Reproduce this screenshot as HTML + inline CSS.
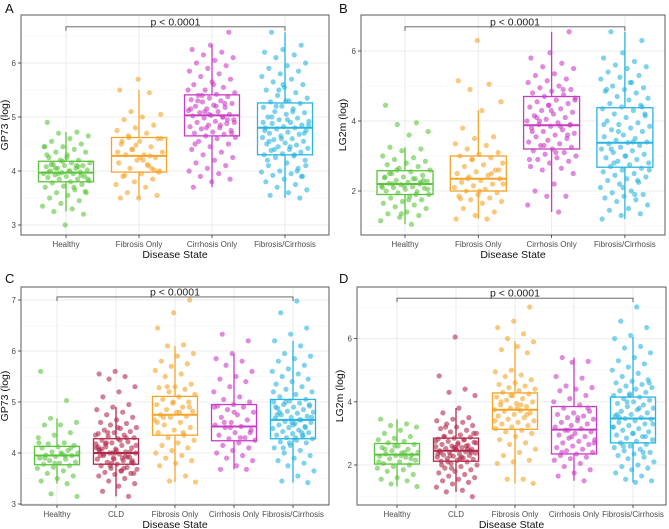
<!DOCTYPE html>
<html><head><meta charset="utf-8">
<style>
html,body{margin:0;padding:0;background:#fff;}
svg{display:block;font-family:"Liberation Sans",sans-serif;}
</style></head>
<body>
<svg id="chart" width="669" height="529" viewBox="0 0 669 529" xmlns="http://www.w3.org/2000/svg"></svg>
<script>
// ---------- DATA ----------
const catsAB = ["Healthy","Fibrosis Only","Cirrhosis Only","Fibrosis/Cirrhosis"];
const catsCD = ["Healthy","CLD","Fibrosis Only","Cirrhosis Only","Fibrosis/Cirrhosis"];
const colorsAB = ["#5cc43c","#f5a42a","#c93cc4","#2ab4e0"];
const colorsCD = ["#5cc43c","#b3294b","#f5a42a","#c93cc4","#2ab4e0"];

// Panel A (GP73 log) box stats: q1, median, q3, lower whisker, upper whisker
const aQ1 = [3.80,3.98,4.65,4.30];
const aMed = [3.97,4.28,5.03,4.80];
const aQ3 = [4.18,4.62,5.41,5.26];
const aLo = [3.25,3.50,3.70,3.50];
const aHi = [4.72,5.50,6.33,6.57];
const aTicks = [3,4,5,6];
const aPts = [
[4.9,4.72,4.7,4.65,4.6,4.55,4.5,4.45,4.45,4.4,4.35,4.35,4.3,4.25,4.2,4.2,4.15,4.15,4.12,4.1,4.1,4.08,4.05,4.05,4.02,4.0,4.0,3.98,3.97,3.95,3.95,3.93,3.9,3.9,3.88,3.85,3.85,3.82,3.8,3.78,3.75,3.72,3.7,3.65,3.6,3.6,3.55,3.5,3.45,3.4,3.35,3.3,3.25,3.2,3.0,4.3,4.1,3.95,3.85,4.0,4.12,3.92,4.18,4.45,3.7,4.05,3.62,4.25,3.98,4.08],
[5.7,5.5,5.45,5.1,5.05,5.0,4.95,4.85,4.8,4.75,4.7,4.65,4.6,4.55,4.5,4.45,4.4,4.35,4.3,4.3,4.25,4.2,4.15,4.1,4.05,4.0,3.95,3.9,3.85,3.8,3.75,3.7,3.6,3.55,3.5,3.5,4.28,4.4,4.6,4.2,3.92,4.02,4.48,4.35,4.12,4.62,3.98,4.25,4.55,4.05],
[6.57,6.33,6.25,6.2,6.15,6.1,6.05,6.0,5.95,5.9,5.85,5.8,5.75,5.7,5.65,5.6,5.55,5.5,5.45,5.42,5.4,5.38,5.35,5.32,5.3,5.28,5.25,5.22,5.2,5.18,5.15,5.12,5.1,5.08,5.05,5.03,5.02,5.0,4.98,4.95,4.92,4.9,4.88,4.85,4.82,4.8,4.78,4.75,4.72,4.7,4.68,4.65,4.62,4.6,4.55,4.5,4.45,4.4,4.35,4.3,4.25,4.2,4.15,4.1,4.05,4.0,3.95,3.9,3.85,3.8,3.7,5.0,5.1,4.9,5.2,5.3,4.95,5.05,5.15,4.85,5.4,4.7,5.6,4.5,5.25,4.8,5.5],
[6.57,6.33,6.25,6.2,6.15,6.1,6.0,5.95,5.9,5.85,5.8,5.75,5.7,5.65,5.6,5.55,5.5,5.45,5.4,5.35,5.3,5.28,5.25,5.2,5.18,5.15,5.1,5.08,5.05,5.0,4.98,4.95,4.92,4.9,4.88,4.85,4.82,4.8,4.8,4.78,4.75,4.72,4.7,4.68,4.65,4.62,4.6,4.58,4.55,4.52,4.5,4.48,4.45,4.42,4.4,4.38,4.35,4.32,4.3,4.28,4.25,4.2,4.15,4.1,4.05,4.0,3.98,3.95,3.92,3.9,3.85,3.8,3.75,3.7,3.65,3.6,3.55,3.5,4.6,4.9,5.1,4.4,4.7,5.3,4.2,4.0,5.5,4.85,4.45,5.0,3.9,5.6,4.75,4.3,5.2,4.1,4.95,4.55]
];

// Panel B (LG2m log)
const bQ1 = [1.90,2.00,3.20,2.68];
const bMed = [2.20,2.35,3.88,3.38];
const bQ3 = [2.58,3.00,4.70,4.38];
const bLo = [1.05,1.20,1.40,1.20];
const bHi = [3.25,4.30,6.55,6.55];
const bTicks = [2,4,6];
const bPts = [
[4.45,3.95,3.9,3.7,3.6,3.25,3.2,3.15,3.0,2.95,2.9,2.85,2.8,2.75,2.7,2.65,2.6,2.55,2.5,2.45,2.4,2.38,2.35,2.3,2.28,2.25,2.22,2.2,2.18,2.15,2.12,2.1,2.08,2.05,2.0,1.98,1.95,1.9,1.85,1.8,1.75,1.7,1.65,1.6,1.55,1.5,1.4,1.35,1.3,1.25,1.15,1.05,2.2,2.3,2.15,2.4,1.9,2.6,2.05,1.75,2.5,2.25,1.35,2.1,2.35],
[6.3,5.15,5.05,4.9,4.55,4.3,3.8,3.55,3.5,3.35,3.3,3.2,3.1,3.05,3.0,2.95,2.9,2.8,2.75,2.7,2.6,2.55,2.5,2.45,2.4,2.35,2.3,2.25,2.2,2.15,2.1,2.05,2.0,1.95,1.9,1.85,1.8,1.75,1.7,1.65,1.5,1.4,1.3,1.2,1.2,2.35,2.6,2.0,1.78,2.5,2.9,2.2],
[6.55,5.95,5.8,5.65,5.55,5.5,5.35,5.3,5.2,5.15,5.1,5.0,4.95,4.9,4.85,4.8,4.75,4.7,4.65,4.6,4.55,4.5,4.45,4.4,4.35,4.3,4.25,4.2,4.15,4.1,4.05,4.0,3.95,3.9,3.88,3.85,3.8,3.75,3.7,3.65,3.6,3.55,3.5,3.45,3.4,3.35,3.3,3.25,3.2,3.15,3.1,3.05,3.0,2.95,2.9,2.85,2.8,2.7,2.65,2.6,2.5,2.2,2.0,1.85,1.85,1.6,1.4,4.0,3.9,4.3,3.7,4.9,3.3,4.6,3.1,4.1,3.6,4.45,2.9,3.85],
[6.55,6.3,5.95,5.8,5.7,5.6,5.55,5.5,5.4,5.3,5.25,5.2,5.1,5.0,4.95,4.9,4.85,4.8,4.7,4.65,4.6,4.5,4.45,4.4,4.35,4.3,4.2,4.15,4.1,4.0,3.95,3.9,3.85,3.8,3.75,3.7,3.6,3.55,3.5,3.45,3.4,3.38,3.35,3.3,3.25,3.2,3.15,3.1,3.05,3.0,2.95,2.9,2.85,2.8,2.75,2.7,2.65,2.6,2.55,2.5,2.45,2.4,2.35,2.3,2.25,2.2,2.1,2.0,1.95,1.9,1.85,1.8,1.75,1.7,1.6,1.5,1.45,1.35,1.3,1.2,3.4,2.8,4.2,3.0,4.9,2.3,3.7,2.6,5.1,3.2,4.4,2.1,3.9,1.9]
];

// Panel C (GP73 log)
const cQ1 = [3.77,3.78,4.35,4.24,4.28];
const cMed = [3.95,4.00,4.75,4.52,4.65];
const cQ3 = [4.13,4.28,5.11,4.95,5.05];
const cLo = [3.40,3.15,3.43,3.68,3.42];
const cHi = [4.68,4.90,6.10,5.95,6.20];
const cTicks = [3,4,5,6,7];
const cPts = [
[5.6,5.03,4.68,4.6,4.55,4.55,4.4,4.35,4.3,4.2,4.18,4.15,4.12,4.1,4.05,4.02,4.0,3.98,3.96,3.95,3.93,3.9,3.88,3.85,3.82,3.8,3.78,3.75,3.72,3.7,3.65,3.6,3.55,3.5,3.45,3.4,3.2,3.15,4.0,3.9,4.1,3.8,4.2,3.95],
[5.6,5.55,5.5,5.45,5.3,5.2,5.1,4.95,4.9,4.85,4.8,4.75,4.7,4.65,4.6,4.58,4.55,4.5,4.48,4.45,4.42,4.4,4.38,4.35,4.32,4.3,4.28,4.25,4.22,4.2,4.18,4.15,4.12,4.1,4.08,4.05,4.02,4.0,4.0,3.98,3.95,3.92,3.9,3.88,3.85,3.82,3.8,3.78,3.75,3.72,3.7,3.68,3.65,3.62,3.6,3.58,3.55,3.5,3.45,3.4,3.35,3.25,3.15,4.0,4.1,3.9,4.2,3.85,4.05,3.95,4.3,3.75,4.15,4.25,3.98,4.02,3.88,4.12,3.7,4.4,3.6,4.5,4.08,3.92,3.8,4.35,3.65,4.18,3.82,4.0,4.06,3.94],
[7.0,6.75,6.45,6.12,6.1,5.95,5.9,5.8,5.75,5.7,5.62,5.55,5.5,5.35,5.3,5.28,5.25,5.2,5.15,5.1,5.05,5.0,4.98,4.95,4.9,4.85,4.82,4.8,4.75,4.72,4.7,4.65,4.6,4.55,4.5,4.45,4.4,4.35,4.3,4.25,4.2,4.15,4.1,4.05,4.0,3.95,3.9,3.85,3.8,3.75,3.55,3.45,3.43,4.8,4.7,4.9,5.0,4.6,4.4,5.3],
[6.33,6.2,5.95,5.85,5.8,5.72,5.6,5.5,5.45,5.4,5.3,5.2,5.1,5.05,5.0,4.95,4.92,4.9,4.85,4.8,4.75,4.7,4.65,4.6,4.55,4.52,4.5,4.45,4.4,4.35,4.3,4.28,4.25,4.2,4.15,4.1,4.05,4.0,3.95,3.9,3.85,3.75,3.68,3.68,4.5,4.9,4.3,4.6,4.4,4.8],
[6.98,6.75,6.45,6.33,6.2,6.1,5.95,5.9,5.85,5.8,5.72,5.65,5.6,5.55,5.5,5.45,5.4,5.35,5.3,5.25,5.2,5.15,5.1,5.05,5.02,5.0,4.98,4.95,4.92,4.9,4.88,4.85,4.82,4.8,4.78,4.75,4.72,4.7,4.68,4.65,4.62,4.6,4.58,4.55,4.52,4.5,4.48,4.45,4.42,4.4,4.38,4.35,4.32,4.3,4.28,4.25,4.22,4.2,4.15,4.1,4.05,4.0,3.95,3.9,3.85,3.8,3.75,3.65,3.55,3.45,3.42,4.6,4.9,4.4,5.0,4.7,4.3,4.8,4.5,4.2,5.2,4.65,4.1,4.95,4.55,4.75,4.35]
];

// Panel D (LG2m log)
const dQ1 = [2.03,2.12,3.13,2.35,2.70];
const dMed = [2.33,2.45,3.75,3.12,3.47];
const dQ3 = [2.68,2.85,4.28,3.85,4.15];
const dLo = [1.32,1.15,1.42,1.50,1.45];
const dHi = [3.45,3.80,5.92,5.40,6.05];
const dTicks = [2,4,6];
const dPts = [
[3.45,3.3,3.25,3.2,3.1,3.0,2.9,2.85,2.8,2.75,2.7,2.65,2.6,2.55,2.5,2.45,2.4,2.38,2.35,2.32,2.3,2.28,2.25,2.2,2.15,2.1,2.05,2.0,1.95,1.9,1.85,1.8,1.7,1.6,1.55,1.5,1.4,1.32,2.3,2.5,2.2,2.6,2.1,2.4],
[6.05,4.82,4.4,4.3,4.2,3.8,3.65,3.5,3.45,3.4,3.35,3.3,3.25,3.2,3.15,3.1,3.05,3.0,2.95,2.9,2.88,2.85,2.82,2.8,2.75,2.72,2.7,2.65,2.62,2.6,2.58,2.55,2.52,2.5,2.48,2.45,2.42,2.4,2.38,2.35,2.32,2.3,2.28,2.25,2.22,2.2,2.18,2.15,2.12,2.1,2.05,2.0,1.95,1.9,1.85,1.8,1.75,1.7,1.65,1.6,1.55,1.5,1.45,1.4,1.3,1.2,1.15,1.0,2.5,2.4,2.6,2.3,2.7,2.2,2.9,2.45,2.55,2.35,2.8,2.1,3.0,2.65,2.0,2.5,1.9,2.75,2.25,3.2,2.4,2.55],
[7.0,6.55,6.35,6.15,6.0,5.9,5.75,5.65,5.55,5.0,4.95,4.85,4.8,4.7,4.6,4.55,4.5,4.45,4.4,4.35,4.3,4.25,4.2,4.15,4.1,4.05,4.0,3.95,3.9,3.85,3.8,3.75,3.72,3.7,3.65,3.6,3.55,3.5,3.45,3.4,3.35,3.3,3.25,3.2,3.15,3.1,3.05,3.0,2.9,2.8,2.7,2.65,2.5,2.4,2.3,2.15,2.1,2.05,1.55,1.55,1.42,3.8,4.0,3.6,4.2,3.4,3.9],
[5.4,5.28,5.25,4.8,4.75,4.5,4.45,4.4,4.35,4.2,4.1,4.0,3.9,3.8,3.7,3.65,3.6,3.55,3.5,3.45,3.4,3.35,3.3,3.25,3.2,3.15,3.1,3.05,3.0,2.95,2.9,2.85,2.8,2.75,2.7,2.65,2.6,2.55,2.5,2.45,2.4,2.35,2.3,2.25,2.2,2.15,2.05,1.95,1.85,1.75,1.65,1.5,3.1,2.7,3.5,2.4,3.8,2.9],
[7.0,6.55,6.35,6.1,6.0,5.75,5.7,5.55,5.4,5.3,5.2,5.1,5.0,4.9,4.8,4.7,4.65,4.6,4.55,4.5,4.45,4.4,4.35,4.3,4.25,4.2,4.15,4.1,4.05,4.0,3.95,3.9,3.85,3.8,3.75,3.7,3.65,3.6,3.55,3.5,3.47,3.45,3.4,3.35,3.3,3.25,3.2,3.15,3.1,3.05,3.0,2.95,2.9,2.85,2.8,2.75,2.7,2.65,2.6,2.55,2.5,2.45,2.4,2.35,2.3,2.25,2.2,2.1,2.0,1.95,1.9,1.85,1.75,1.65,1.55,1.5,1.45,3.5,2.9,4.2,3.2,3.8,2.6,4.6,3.0,3.6,2.4,4.0,3.3]
];

// ---------- DRAWING ----------
const NS = "http://www.w3.org/2000/svg";
const svg = document.getElementById("chart");
function mk(tag, attrs, parent){
  const e = document.createElementNS(NS, tag);
  for (const k in attrs) e.setAttribute(k, attrs[k]);
  (parent||svg).appendChild(e);
  return e;
}

function panel(cfg){
  const g = mk("g", {});
  
  
  // y scale from two reference ticks
  const yScale = v => cfg.yRefPx + (cfg.yRefVal - v) * cfg.pxPerUnit;
  const xCat = i => cfg.firstX + i * cfg.step;
  const vTop = cfg.yRefVal + (cfg.yRefPx - cfg.y0) / cfg.pxPerUnit;
  const vBot = cfg.yRefVal - (cfg.y1 - cfg.yRefPx) / cfg.pxPerUnit;

  // background grid
  const grid = mk("g", {}, g);
  
  
  const tStep = cfg.ticks[1] - cfg.ticks[0];
  for (let v = Math.ceil(vBot / (tStep/2)) * (tStep/2); v <= vTop; v += tStep/2) {
    const major = cfg.ticks.some(t => Math.abs(t - v) < 1e-6);
    mk("line", {x1:cfg.x0, x2:cfg.x1, y1:yScale(v), y2:yScale(v), stroke: major ? "#ebebeb" : "#f4f4f4", "stroke-width": major ? 1 : 0.6}, grid);
  }
  cfg.cats.forEach((c, i) => {
    mk("line", {x1:xCat(i), x2:xCat(i), y1:cfg.y0, y2:cfg.y1, stroke:"#ebebeb", "stroke-width":1}, grid);
  });

  // bracket
  const by = yScale(cfg.bracketVal);
  const bx1 = xCat(0), bx2 = xCat(cfg.cats.length - 1);
  const br = mk("path", {d:`M${bx1},${by+4}V${by}H${bx2}V${by+4}`, fill:"none", stroke:"#555", "stroke-width":0.9}, g);
  
  
  const pt = mk("text", {x:(bx1+bx2)/2, y:by - 1.5, "text-anchor":"middle", "font-size":10.5, fill:"#222"}, g);
  pt.textContent = "p < 0.0001";
  
  

  // boxes and points
  cfg.cats.forEach((c, i) => {
    const col = cfg.colors[i];
    const cx = xCat(i);
    const bg = mk("g", {}, g);
    
    
    const hw = cfg.boxW / 2;
    const wl = mk("line", {x1:cx, x2:cx, y1:yScale(cfg.hi[i]), y2:yScale(cfg.lo[i]), stroke:col, "stroke-width":1.3}, bg);
    
    
    const bx = mk("rect", {x:cx-hw, y:yScale(cfg.q3[i]), width:cfg.boxW, height:yScale(cfg.q1[i]) - yScale(cfg.q3[i]), fill:"#fff", stroke:col, "stroke-width":1.3}, bg);
    
    
    const ml = mk("line", {x1:cx-hw, x2:cx+hw, y1:yScale(cfg.med[i]), y2:yScale(cfg.med[i]), stroke:col, "stroke-width":2}, bg);
    
    
    cfg.pts[i].forEach((v, k) => {
      const j = ((k * 0.61803398875 + i * 0.37 + 0.11) % 1) - 0.5;
      const p = mk("circle", {cx: cx + j * 2 * cfg.jit, cy: yScale(v), r: 2.6, fill: col, "fill-opacity": 0.6}, bg);
      
      
    });
  });

  // border
  const bd = mk("rect", {x:cfg.x0, y:cfg.y0, width:cfg.x1-cfg.x0, height:cfg.y1-cfg.y0, fill:"none", stroke:"#333", "stroke-width":0.8}, g);
  
  

  // y ticks
  cfg.ticks.forEach(t => {
    const y = yScale(t);
    mk("line", {x1:cfg.x0-3, x2:cfg.x0, y1:y, y2:y, stroke:"#333", "stroke-width":0.8}, g);
    const tx = mk("text", {x:cfg.x0-5, y:y+3, "text-anchor":"end", "font-size":8, fill:"#4d4d4d"}, g);
    tx.textContent = t;
    
    
  });
  // x ticks
  cfg.cats.forEach((c, i) => {
    const x = xCat(i);
    mk("line", {x1:x, x2:x, y1:cfg.y1, y2:cfg.y1+3, stroke:"#333", "stroke-width":0.8}, g);
    const tx = mk("text", {x:x, y:cfg.y1+12, "text-anchor":"middle", "font-size":8, fill:"#4d4d4d"}, g);
    tx.textContent = c;
    
    
  });
  // axis titles
  const xt = mk("text", {x:(cfg.x0+cfg.x1)/2, y:cfg.y1+23, "text-anchor":"middle", "font-size":10.5, fill:"#111"}, g);
  xt.textContent = "Disease State";
  
  
  const ym = (cfg.y0 + cfg.y1) / 2;
  const yt = mk("text", {x:cfg.yTitleX, y:ym, "text-anchor":"middle", "font-size":10.5, fill:"#111", transform:`rotate(-90 ${cfg.yTitleX} ${ym})`}, g);
  yt.textContent = cfg.ytitle;
  
  
  const lt = mk("text", {x:cfg.letterX, y:cfg.letterY, "font-size":13, fill:"#111"}, g);
  lt.textContent = cfg.letter;
  
  
}

panel({letter:"A", letterX:5, letterY:13, x0:21, x1:329, y0:15, y1:235, yRefVal:4, yRefPx:171, pxPerUnit:54,
  ticks:aTicks, cats:catsAB, colors:colorsAB, firstX:66, step:73, boxW:55, jit:24,
  q1:aQ1, med:aMed, q3:aQ3, lo:aLo, hi:aHi, pts:aPts, bracketVal:6.67, ytitle:"GP73 (log)", yTitleX:8});
panel({letter:"B", letterX:339, letterY:13, x0:361, x1:665, y0:15, y1:235, yRefVal:2, yRefPx:191, pxPerUnit:35,
  ticks:bTicks, cats:catsAB, colors:colorsAB, firstX:405, step:73.3, boxW:56, jit:25,
  q1:bQ1, med:bMed, q3:bQ3, lo:bLo, hi:bHi, pts:bPts, bracketVal:6.69, ytitle:"LG2m (log)", yTitleX:346});
panel({letter:"C", letterX:5, letterY:283, x0:21, x1:329, y0:287, y1:505, yRefVal:4, yRefPx:453, pxPerUnit:51,
  ticks:cTicks, cats:catsCD, colors:colorsCD, firstX:57, step:59, boxW:45, jit:21,
  q1:cQ1, med:cMed, q3:cQ3, lo:cLo, hi:cHi, pts:cPts, bracketVal:7.06, ytitle:"GP73 (log)", yTitleX:8});
panel({letter:"D", letterX:339, letterY:283, x0:357, x1:666, y0:287, y1:505, yRefVal:2, yRefPx:465, pxPerUnit:31.6,
  ticks:dTicks, cats:catsCD, colors:colorsCD, firstX:397, step:59, boxW:45, jit:21,
  q1:dQ1, med:dMed, q3:dQ3, lo:dLo, hi:dHi, pts:dPts, bracketVal:7.28, ytitle:"LG2m (log)", yTitleX:343});
</script>
</body></html>
